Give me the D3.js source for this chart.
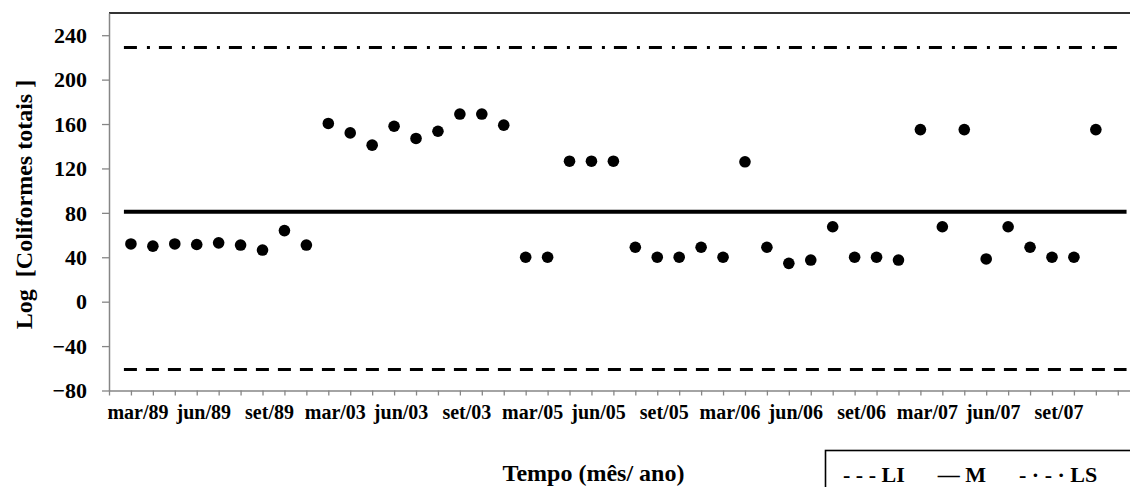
<!DOCTYPE html>
<html>
<head>
<meta charset="utf-8">
<script src="https://cdn.jsdelivr.net/npm/d3@7"></script>
<style>
  body { margin: 0; background: #fff; }
  text { font-family: "Liberation Serif", "Times New Roman", serif; font-weight: bold; fill: #000; }
</style>
</head>
<body>
<svg id="chart" width="1130" height="487"></svg>
<script>
// Log of total coliforms, one reading per sampled month
const values = [
  52, 50, 52, 51.5, 53, 51, 46.5, 64, 51,
  160.5, 152, 141, 158, 147, 153.5, 169, 169, 159,
  40, 40, 126.5, 126.5, 126.5, 49, 40, 40, 49, 40, 126,
  49, 34.5, 37.5, 67.5, 40, 40, 37.5, 155, 67.5, 155,
  38.5, 67.5, 49, 40, 40, 155
];
// Month labels shown on the time axis (every third sample)
const tickLabels = ["mar/89", "jun/89", "set/89", "mar/03", "jun/03", "set/03",
  "mar/05", "jun/05", "set/05", "mar/06", "jun/06", "set/06",
  "mar/07", "jun/07", "set/07"];
const labelStep = 3;
const yTicks = [-80, -40, 0, 40, 80, 120, 160, 200, 240];
// Control limits: lower (LI), mean (M), upper (LS)
const lowerLimit = -61;
const meanValue = 81;
const upperLimit = 229;
const legendItems = ["- - - LI", "\u2014 M", "- \u00b7 - \u00b7 LS"];

const svg = d3.select("#chart");
const plotLeft = 109, plotTop = 13, plotBottom = 390.5, step = 21.93;

const x = d3.scaleLinear().domain([0, 47]).range([plotLeft, plotLeft + 47 * step]);
const y = d3.scaleLinear().domain([-80, 260]).range([plotBottom, plotTop]);

// plot frame top edge
svg.append("line")
  .attr("x1", plotLeft).attr("x2", 1130).attr("y1", plotTop).attr("y2", plotTop)
  .attr("stroke", "#333").attr("stroke-width", 2);

// y axis
const yAxis = svg.append("g")
  .attr("transform", `translate(${plotLeft},0)`)
  .call(d3.axisLeft(y).tickValues(yTicks).tickSize(7).tickSizeOuter(0).tickPadding(15));
yAxis.select(".domain").attr("stroke", "#868686").attr("stroke-width", 1.5);
yAxis.selectAll(".tick line").attr("stroke", "#868686").attr("stroke-width", 1.3);
yAxis.selectAll(".tick text")
  .attr("font-size", 22).attr("dy", "0.33em");
yAxis.attr("font-family", null).attr("font-size", null);

// x axis (category ticks)
const xAxis = svg.append("g")
  .attr("transform", `translate(0,${plotBottom})`)
  .call(d3.axisBottom(x).tickValues(d3.range(0, 47)).tickSize(5).tickSizeOuter(0).tickFormat(""));
xAxis.select(".domain").attr("stroke", "#868686").attr("stroke-width", 1.5);
xAxis.selectAll(".tick line").attr("stroke", "#868686").attr("stroke-width", 1.3);

svg.append("g").selectAll("text")
  .data(tickLabels)
  .join("text")
  .attr("x", (d, i) => x(i * labelStep + 1) + 7)
  .attr("y", 419)
  .attr("text-anchor", "middle")
  .attr("font-size", 20)
  .text(d => d);

// control limit lines
const lineStart = 0.68, lineEnd = 46.4;
const limitLines = [
  { v: lowerLimit, w: 3, dash: "13,9" },
  { v: meanValue, w: 4, dash: null },
  { v: upperLimit, w: 3, dash: "13,10,3,9" }
];
svg.append("g").selectAll("line")
  .data(limitLines)
  .join("line")
  .attr("x1", x(lineStart)).attr("x2", x(lineEnd))
  .attr("y1", d => y(d.v)).attr("y2", d => y(d.v))
  .attr("stroke", "#000")
  .attr("stroke-width", d => d.w)
  .attr("stroke-dasharray", d => d.dash);

// readings
svg.append("g").selectAll("circle")
  .data(values)
  .join("circle")
  .attr("cx", (d, i) => x(i + 1))
  .attr("cy", d => y(d))
  .attr("r", 5.8)
  .attr("fill", "#000");

// axis titles
svg.append("text")
  .attr("x", 593.5).attr("y", 481)
  .attr("text-anchor", "middle")
  .attr("font-size", 24)
  .text("Tempo (mês/ ano)");

svg.append("text")
  .attr("transform", "translate(31.5,204.5) rotate(-90)")
  .attr("text-anchor", "middle")
  .attr("font-size", 24)
  .style("white-space", "pre")
  .text("Log  [Coliformes totais ]");

// legend box
svg.append("rect")
  .attr("x", 825.5).attr("y", 450.5)
  .attr("width", 400).attr("height", 100)
  .attr("fill", "none").attr("stroke", "#000").attr("stroke-width", 1.6);

let lx = 843;
legendItems.forEach(t => {
  const node = svg.append("text")
    .attr("x", lx).attr("y", 481.5)
    .attr("font-size", 22)
    .style("white-space", "pre")
    .text(t);
  lx += node.node().getComputedTextLength() + 33;
});
</script>
</body>
</html>
